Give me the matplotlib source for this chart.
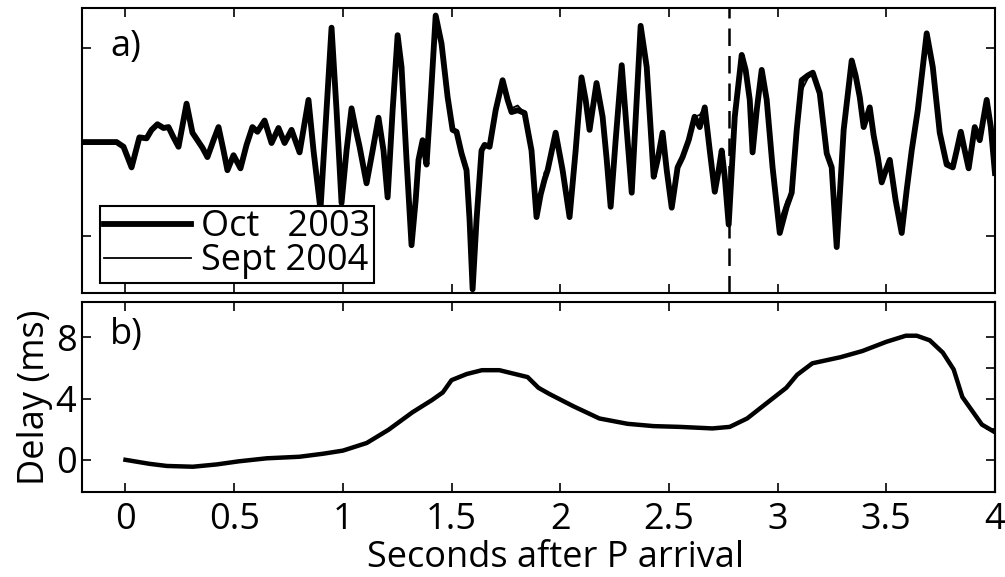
import matplotlib
matplotlib.use("Agg")
import matplotlib.pyplot as plt

plt.rcParams['font.family'] = ['Open Sans', 'DejaVu Sans']

# Seismograms at the same station, seconds after the P arrival
wave_time = [
    -0.200, -0.120, -0.041, -0.009, 0.028, 0.064, 0.097, 0.120, 0.147, 0.175,
    0.198, 0.221, 0.244, 0.281, 0.308, 0.331, 0.354, 0.377, 0.405, 0.428,
    0.451, 0.469, 0.497, 0.529, 0.557, 0.584, 0.607, 0.640, 0.672, 0.704,
    0.732, 0.764, 0.801, 0.842, 0.865, 0.897, 0.925, 0.948, 0.971, 0.994,
    1.017, 1.040, 1.058, 1.077, 1.109, 1.137, 1.164, 1.187, 1.206, 1.229,
    1.252, 1.270, 1.293, 1.316, 1.335, 1.348, 1.367, 1.385, 1.404, 1.427,
    1.454, 1.482, 1.505, 1.523, 1.546, 1.569, 1.583, 1.597, 1.615, 1.638,
    1.652, 1.675, 1.703, 1.735, 1.758, 1.776, 1.804, 1.836, 1.868, 1.891,
    1.910, 1.928, 1.942, 1.979, 2.011, 2.043, 2.071, 2.098, 2.117, 2.135,
    2.167, 2.195, 2.214, 2.232, 2.255, 2.283, 2.306, 2.329, 2.352, 2.370,
    2.398, 2.430, 2.448, 2.471, 2.490, 2.513, 2.540, 2.563, 2.591, 2.618,
    2.642, 2.665, 2.688, 2.711, 2.729, 2.743, 2.757, 2.775, 2.803, 2.835,
    2.853, 2.872, 2.885, 2.904, 2.927, 2.950, 2.977, 3.010, 3.042, 3.065,
    3.088, 3.111, 3.139, 3.162, 3.194, 3.226, 3.249, 3.272, 3.304, 3.341,
    3.359, 3.378, 3.396, 3.424, 3.442, 3.461, 3.479, 3.498, 3.516, 3.543,
    3.571, 3.594, 3.617, 3.645, 3.686, 3.714, 3.746, 3.778, 3.806, 3.824,
    3.843, 3.861, 3.879, 3.907, 3.930, 3.962, 3.981, 4.000,
]

oct_2003 = [
    0.00, 0.00, 0.00, -0.05, -0.27, 0.05, 0.04, 0.13, 0.19, 0.15,
    0.16, 0.05, -0.05, 0.41, 0.10, 0.02, -0.06, -0.16, 0.02, 0.16,
    -0.09, -0.30, -0.14, -0.28, -0.03, 0.16, 0.11, 0.23, -0.01, 0.15,
    -0.01, 0.13, -0.11, 0.45, -0.09, -0.72, 0.34, 1.22, 0.34, -0.65,
    -0.09, 0.36, 0.15, -0.05, -0.44, -0.09, 0.26, -0.09, -0.59, 0.34,
    1.14, 0.80, -0.19, -1.10, -0.62, -0.19, 0.02, -0.24, 0.45, 1.35,
    1.05, 0.48, 0.13, 0.11, -0.12, -0.30, -0.83, -1.57, -0.83, -0.09,
    -0.03, -0.05, 0.34, 0.66, 0.45, 0.32, 0.34, 0.31, -0.09, -0.80,
    -0.56, -0.40, -0.30, 0.10, -0.30, -0.80, -0.09, 0.69, 0.45, 0.13,
    0.63, 0.27, -0.19, -0.69, 0.02, 0.82, 0.13, -0.54, 0.45, 1.24,
    0.80, -0.37, -0.19, 0.10, -0.30, -0.70, -0.27, -0.16, 0.02, 0.27,
    0.16, 0.37, -0.09, -0.53, -0.30, -0.09, -0.37, -0.88, 0.27, 0.93,
    0.77, 0.45, -0.11, 0.34, 0.77, 0.45, -0.27, -0.97, -0.69, -0.54,
    0.13, 0.66, 0.71, 0.74, 0.52, -0.12, -0.27, -1.12, 0.13, 0.87,
    0.71, 0.48, 0.16, 0.37, 0.07, -0.16, -0.43, -0.30, -0.19, -0.62,
    -0.97, -0.51, -0.09, 0.34, 1.16, 0.80, 0.10, -0.24, -0.27, -0.09,
    0.11, -0.09, -0.28, 0.16, 0.02, 0.45, 0.16, -0.33,
]

sept_2004 = [
    0.00, 0.00, 0.00, -0.05, -0.27, 0.05, 0.04, 0.13, 0.19, 0.15,
    0.16, 0.05, -0.05, 0.41, 0.10, 0.02, -0.06, -0.16, 0.02, 0.16,
    -0.09, -0.30, -0.14, -0.28, -0.03, 0.16, 0.11, 0.23, -0.01, 0.15,
    -0.01, 0.13, -0.11, 0.45, -0.09, -0.72, 0.34, 1.22, 0.34, -0.65,
    -0.09, 0.36, 0.15, -0.05, -0.44, -0.09, 0.26, -0.09, -0.59, 0.34,
    1.14, 0.80, -0.19, -1.10, -0.62, -0.19, 0.02, -0.24, 0.45, 1.35,
    1.05, 0.48, 0.13, 0.11, -0.12, -0.30, -0.83, -1.52, -0.83, -0.09,
    -0.03, -0.05, 0.34, 0.66, 0.45, 0.36, 0.39, 0.31, -0.09, -0.80,
    -0.56, -0.32, -0.30, 0.10, -0.30, -0.80, -0.09, 0.69, 0.45, 0.13,
    0.63, 0.27, -0.19, -0.69, 0.02, 0.82, 0.13, -0.54, 0.45, 1.24,
    0.80, -0.37, -0.19, 0.10, -0.30, -0.70, -0.27, -0.16, 0.07, 0.27,
    0.29, 0.37, -0.09, -0.53, -0.30, -0.09, -0.37, -0.88, 0.27, 0.93,
    0.77, 0.45, -0.11, 0.34, 0.77, 0.45, -0.27, -0.83, -0.62, -0.54,
    0.13, 0.55, 0.68, 0.74, 0.52, -0.12, -0.27, -1.12, 0.13, 0.87,
    0.71, 0.48, 0.16, 0.37, 0.07, -0.16, -0.43, -0.30, -0.19, -0.62,
    -0.97, -0.51, -0.09, 0.34, 1.16, 0.80, 0.10, -0.19, -0.27, -0.09,
    0.11, -0.09, -0.28, 0.15, 0.02, 0.45, 0.16, -0.25,
]

# Time delay between the two records (ms)
delay_time = [
    0.00, 0.11, 0.19, 0.31, 0.42, 0.52, 0.65, 0.80, 0.91, 1.00,
    1.11, 1.21, 1.32, 1.41, 1.46, 1.50, 1.57, 1.64, 1.72, 1.85,
    1.90, 1.95, 2.06, 2.18, 2.31, 2.43, 2.55, 2.70, 2.78, 2.86,
    2.95, 3.04, 3.09, 3.16, 3.29, 3.39, 3.50, 3.59, 3.64, 3.70,
    3.76, 3.81, 3.85, 3.90, 3.94, 4.00,
]
delay_ms = [
    0.00, -0.26, -0.40, -0.45, -0.30, -0.10, 0.10, 0.20, 0.40, 0.60,
    1.10, 1.96, 3.10, 3.90, 4.40, 5.20, 5.60, 5.85, 5.85, 5.40,
    4.70, 4.30, 3.50, 2.70, 2.35, 2.20, 2.15, 2.05, 2.15, 2.70,
    3.70, 4.70, 5.55, 6.30, 6.70, 7.10, 7.70, 8.10, 8.10, 7.80,
    7.00, 5.90, 4.10, 3.10, 2.30, 1.80,
]

marker_time = 2.775
x_ticks = [0, 0.5, 1, 1.5, 2, 2.5, 3, 3.5, 4]
x_tick_labels = ['0', '0.5', '1', '1.5', '2', '2.5', '3', '3.5', '4']

fs = 26

fig = plt.figure(figsize=(10.05, 5.77), dpi=100)
ax1 = fig.add_axes([0.0816, 0.4922, 0.9084, 0.4939])
ax2 = fig.add_axes([0.0816, 0.1473, 0.9084, 0.3293])

for ax in (ax1, ax2):
    ax.set_xlim(-0.2, 4)
    ax.set_xticks(x_ticks)
    for s in ax.spines.values():
        s.set_linewidth(1.5)
    ax.tick_params(direction='in', length=6.5, width=1.2, top=True, right=True,
                   labelsize=fs)
    ax.tick_params(axis='x', pad=7)
    ax.tick_params(axis='y', pad=4)

# panel a: waveforms
ax1.plot(wave_time, oct_2003, color='black', lw=4.2, solid_joinstyle='round',
         label='Oct   2003')
ax1.plot(wave_time, sept_2004, color='black', lw=1.3, label='Sept 2004')
ax1.axvline(marker_time, color='black', lw=1.8, ls=(0, (7, 4)))
ax1.set_ylim(-1.61, 1.43)
ax1.set_yticks([-1, 1])
ax1.set_yticklabels([])
ax1.set_xticklabels([])
ax1.text(0.031, 0.863, 'a)', transform=ax1.transAxes, fontsize=fs,
         va='center', ha='left')
leg = ax1.legend(loc='lower left', bbox_to_anchor=(0.02, 0.035),
                 borderaxespad=0, fontsize=fs, handlelength=2.4,
                 handletextpad=0.3, labelspacing=-0.05, borderpad=0.1,
                 fancybox=False, framealpha=1, edgecolor='black')
leg.get_frame().set_linewidth(1.5)

# panel b: delay
ax2.plot(delay_time, delay_ms, color='black', lw=3.2)
ax2.set_ylim(-2.1, 10.3)
ax2.set_yticks([0, 4, 8])
ax2.tick_params(right=False)
sec = ax2.secondary_yaxis('right')
sec.set_yticks([0, 2, 4, 6, 8])
sec.set_yticklabels([])
sec.tick_params(direction='in', length=6.5, width=1.2)
sec.spines['right'].set_linewidth(1.5)
ax2.set_xticklabels(x_tick_labels)
ax2.set_ylabel('Delay (ms)', fontsize=fs, labelpad=2)
ax2.set_xlabel('Seconds after P arrival', fontsize=fs, labelpad=0)
ax2.xaxis.set_label_coords(0.519, -0.25)
ax2.text(0.031, 0.826, 'b)', transform=ax2.transAxes, fontsize=fs,
         va='center', ha='left')

fig.savefig('out.png', dpi=100)
